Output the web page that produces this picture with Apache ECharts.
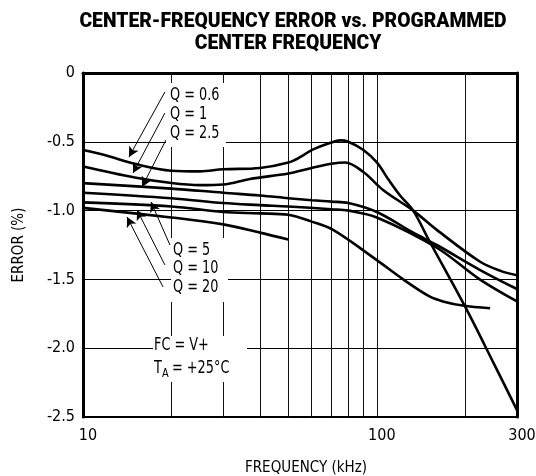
<!DOCTYPE html>
<html><head><meta charset="utf-8">
<script src="https://cdn.jsdelivr.net/npm/echarts@6/dist/echarts.min.js"></script>
<style>html,body{margin:0;padding:0;background:#fff}#c{width:536px;height:476px}</style>
</head><body><div id="c"></div>
<script>
// ---- data (frequency kHz, error %) ----
const seriesNames = ['Q = 0.6', 'Q = 1', 'Q = 2.5', 'Q = 5', 'Q = 10', 'Q = 20'];
const q06 = [[10,-0.56],[12,-0.60],[15,-0.66],[20,-0.71],[25,-0.715],[30,-0.70],[40,-0.69],[50,-0.65],[55,-0.61],[60,-0.56],[70,-0.505],[75,-0.49],[80,-0.50],[90,-0.56],[100,-0.65],[110,-0.78],[120,-0.89],[133,-1.0],[150,-1.21],[200,-1.70],[250,-2.11],[300,-2.45]];
const q1 = [[10,-0.68],[15,-0.76],[20,-0.80],[25,-0.815],[30,-0.81],[37,-0.77],[50,-0.73],[60,-0.69],[70,-0.66],[78,-0.65],[90,-0.72],[105,-0.85],[133,-1.0],[160,-1.14],[224,-1.37],[265,-1.44],[300,-1.47]];
const q25 = [[10,-0.80],[20,-0.84],[30,-0.87],[40,-0.89],[50,-0.91],[60,-0.925],[70,-0.935],[80,-0.945],[100,-1.01],[133,-1.16],[160,-1.25],[224,-1.43],[300,-1.57]];
const q5 = [[10,-0.87],[20,-0.91],[30,-0.945],[40,-0.96],[50,-0.97],[70,-0.99],[80,-1.0],[100,-1.05],[160,-1.27],[224,-1.50],[300,-1.66]];
const q10 = [[10,-0.94],[20,-0.97],[30,-1.01],[40,-1.02],[50,-1.03],[60,-1.08],[71,-1.14],[100,-1.36],[123,-1.50],[150,-1.62],[168,-1.66],[196,-1.69],[243,-1.71]];
const q20 = [[10,-0.98],[20,-1.05],[30,-1.10],[40,-1.16],[50,-1.21]];
const curves = [q06, q1, q25, q5, q10, q20];
// vertical grid frequencies
const gridFreqs = [20,30,40,50,60,70,80,90,100,200];
// y ticks
const yMin = -2.5, yMax = 0, yStep = 0.5;
// arrow annotations: [from label, to curve] in data coordinates
const arrows = [
  [[19.0,-0.138],[14.34,-0.61]],
  [[19.0,-0.291],[14.8,-0.727]],
  [[19.16,-0.487],[15.88,-0.828]],
  [[19.77,-1.25],[17.04,-0.9375]],
  [[19.0,-1.395],[15.27,-0.9956]],
  [[18.72,-1.555],[14.12,-1.0465]]
];

const NARROW = '"Liberation Sans Narrow","DejaVu Sans Condensed","Arial Narrow",sans-serif';
const chart = echarts.init(document.getElementById('c'));

const series = curves.map((d, i) => ({
  name: seriesNames[i], type: 'line', data: d, smooth: 0.35, symbol: 'none',
  lineStyle: { color: '#000', width: 2.6 }, z: 5
}));
series.push({
  type: 'line', data: [], silent: true, z: 3,
  markLine: {
    silent: true, symbol: 'none', animation: false,
    label: { show: false },
    lineStyle: { color: '#111', width: 1, type: 'solid' },
    data: gridFreqs.map(f => ({ xAxis: f }))
  }
});
series.push({
  type: 'line', data: [], silent: true, z: 4,
  markLine: {
    silent: true, animation: false, symbol: ['none', 'arrow'], symbolSize: [8, 10],
    label: { show: false },
    lineStyle: { color: '#000', width: 1, type: 'solid' },
    data: arrows.map(a => [{ coord: a[0] }, { coord: a[1] }])
  }
});

function txt(x, y, s, size, lh) {
  return { type: 'text', x: x, y: y, z: 100, scaleX: 0.84,
    style: { text: s, font: size + 'px ' + NARROW, fill: '#000', lineHeight: lh || size, textVerticalAlign: 'top' } };
}

chart.setOption({
  animation: false,
  backgroundColor: '#fff',
  grid: { left: 83, right: 19, top: 73, bottom: 59, show: true, borderColor: '#000', borderWidth: 2,
    outerBoundsMode: 'none', containLabel: false },
  xAxis: {
    type: 'log', logBase: 10, min: 10, max: 300,
    axisLine: { show: true, lineStyle: { color: '#000', width: 3 } },
    axisTick: { show: false },
    splitLine: { show: false },
    axisLabel: { color: '#000', fontSize: 16, fontFamily: NARROW, margin: 11, padding: [0, 0, 0, 10],
      formatter: v => String(Math.round(v)) },
    name: 'FREQUENCY (kHz)', nameLocation: 'middle', nameGap: 44,
    nameTextStyle: { color: '#000', fontSize: 15, fontFamily: NARROW, padding: [0, 0, 0, 12] }
  },
  yAxis: [{
    type: 'value', min: yMin, max: yMax, interval: yStep,
    axisLine: { show: true, lineStyle: { color: '#000', width: 3 } },
    axisTick: { show: false },
    splitLine: { show: true, lineStyle: { color: '#000', width: 1 } },
    axisLabel: { color: '#000', fontSize: 16, fontFamily: NARROW, margin: 8,
      formatter: v => (v === 0 ? '0' : v.toFixed(1)) },
    name: 'ERROR (%)', nameLocation: 'middle', nameGap: 56,
    nameTextStyle: { color: '#000', fontSize: 15, fontFamily: NARROW }
  }, {
    type: 'value', min: yMin, max: yMax, interval: yStep, position: 'right',
    axisLine: { show: true, lineStyle: { color: '#000', width: 3 } },
    axisTick: { show: false }, axisLabel: { show: false }, splitLine: { show: false }
  }],
  series: series,
  graphic: [
    { type: 'text', x: 293, y: 11, scaleX: 0.92, z: 100,
      style: { text: 'CENTER-FREQUENCY ERROR vs. PROGRAMMED', font: '900 21px Roboto', fill: '#000', textAlign: 'center' } },
    { type: 'text', x: 288, y: 33, scaleX: 0.92, z: 100,
      style: { text: 'CENTER FREQUENCY', font: '900 21px Roboto', fill: '#000', textAlign: 'center' } },
    { type: 'rect', z: 99, shape: { x: 166, y: 83, width: 60, height: 64 }, style: { fill: '#fff' } },
    txt(170, 86, 'Q = 0.6\nQ = 1\nQ = 2.5', 17, 19),
    { type: 'rect', z: 99, shape: { x: 171, y: 238, width: 57, height: 64 }, style: { fill: '#fff' } },
    txt(173, 241, 'Q = 5\nQ = 10\nQ = 20', 17, 18.5),
    { type: 'rect', z: 99, shape: { x: 153, y: 336, width: 94, height: 46 }, style: { fill: '#fff' } },
    txt(154, 337, 'FC = V+', 17),
    txt(154, 360, 'T', 17),
    txt(162, 367, 'A', 13),
    txt(172, 360, '= +25°C', 17)
  ]
});
</script>
</body></html>
